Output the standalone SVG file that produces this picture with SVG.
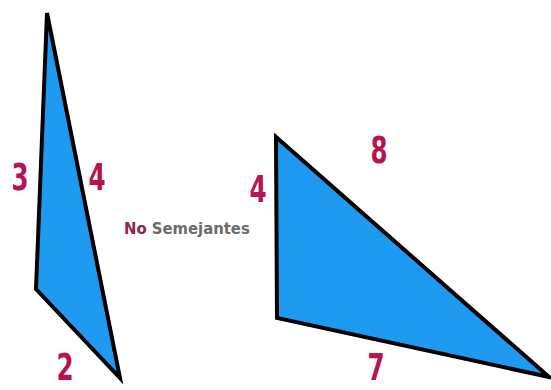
<svg xmlns="http://www.w3.org/2000/svg" width="551" height="390" viewBox="0 0 551 390">
<style>
.tri{fill:#1e9bf0;stroke:#000;stroke-width:4;stroke-linejoin:miter}
.num{font-family:"DejaVu Sans Condensed","DejaVu Sans",sans-serif;font-weight:bold;font-size:38px;fill:#b5154f;text-anchor:middle}
.lbl{font-family:"DejaVu Sans Condensed","DejaVu Sans",sans-serif;font-weight:bold;font-size:16.5px}
</style>
<rect width="551" height="390" fill="#fff"/>
<g id="triangle-left">
<polygon class="tri" points="47,13 36,289 120,378"/>
<text class="num" transform="translate(20,190) scale(0.72,1)">3</text>
<text class="num" transform="translate(97,190) scale(0.72,1)">4</text>
<text class="num" transform="translate(65,380) scale(0.72,1)">2</text>
</g>
<g id="label">
<text class="lbl" x="124" y="234"><tspan fill="#8e1f4e">No</tspan><tspan fill="#6b6b6b"> Semejantes</tspan></text>
</g>
<g id="triangle-right">
<polygon class="tri" points="276,137 277,318 549,377"/>
<text class="num" transform="translate(258,202) scale(0.72,1)">4</text>
<text class="num" transform="translate(379,163) scale(0.72,1)">8</text>
<text class="num" transform="translate(376,380) scale(0.72,1)">7</text>
</g>
<g id="connectors"/>
</svg>
